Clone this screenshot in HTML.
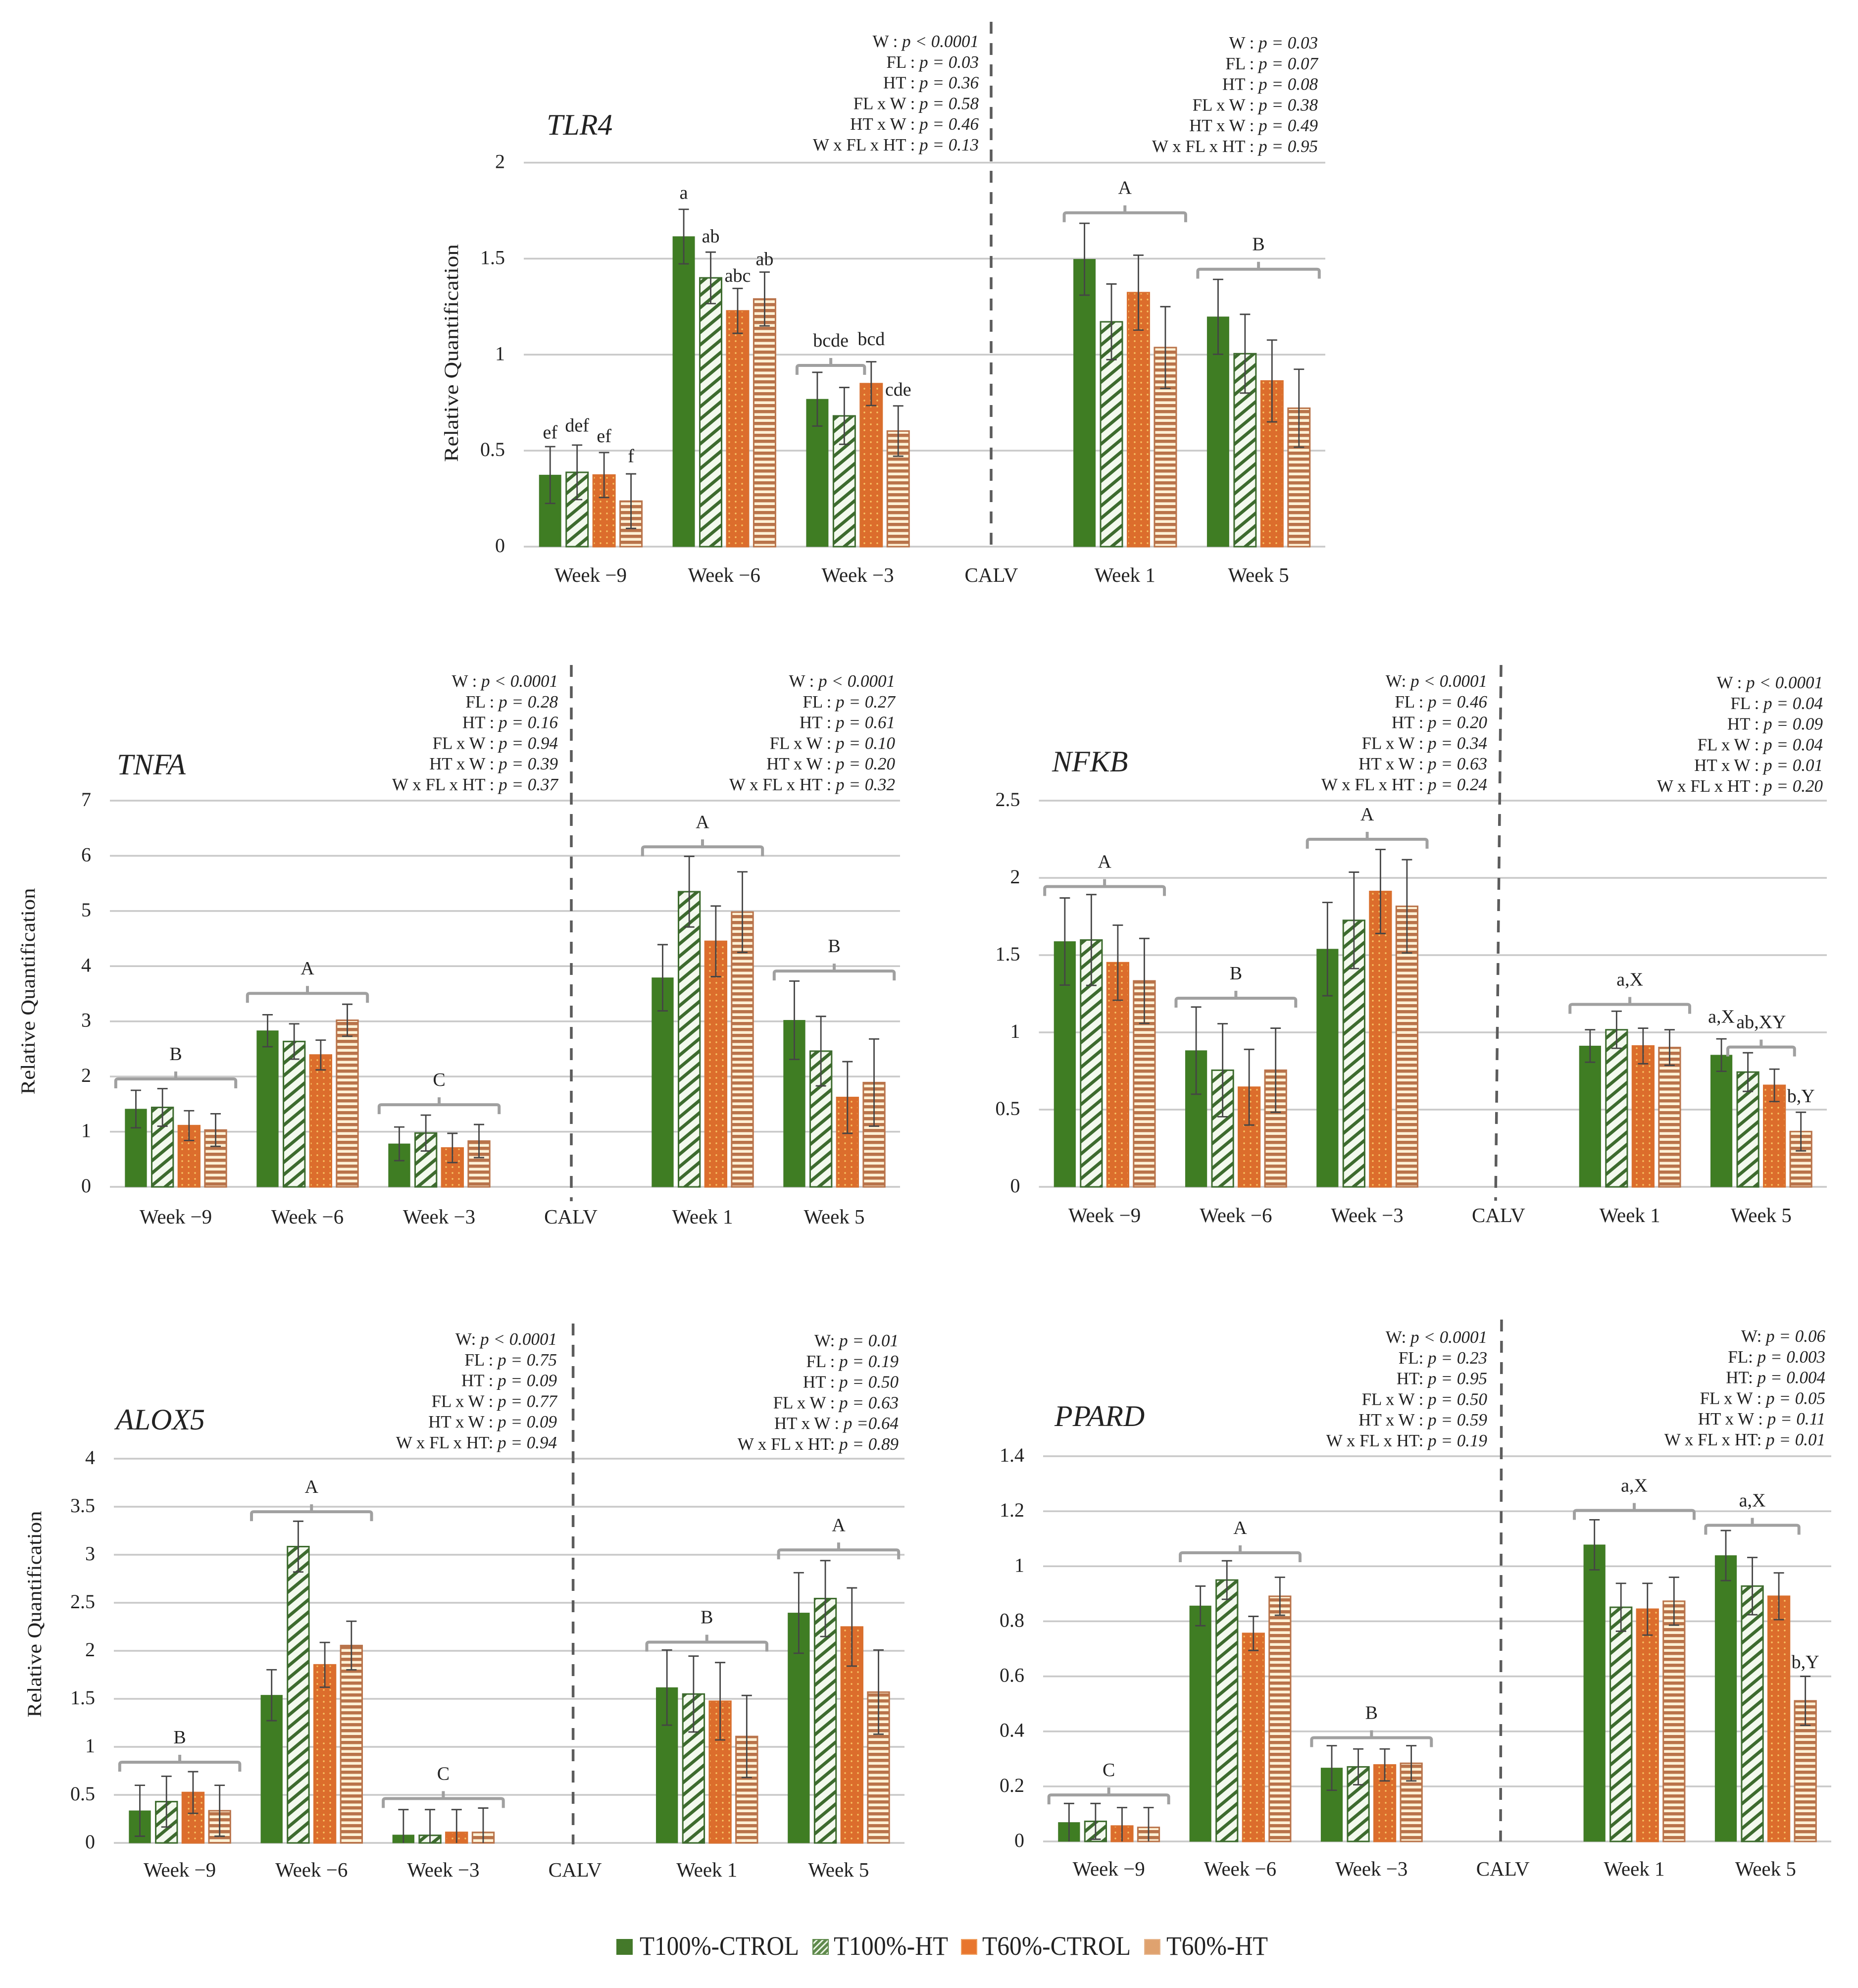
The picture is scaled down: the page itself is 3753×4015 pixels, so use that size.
<!DOCTYPE html>
<html lang="en">
<head>
<meta charset="utf-8">
<title>Relative quantification of TLR4, TNFA, NFKB, ALOX5 and PPARD</title>
<style>
html,body{margin:0;padding:0;background:#fff}
svg{display:block}
text{font-family:"Liberation Serif","DejaVu Serif",serif;fill:#222}
</style>
</head>
<body>
<svg id="figure" xmlns="http://www.w3.org/2000/svg" width="3753" height="4015" viewBox="0 0 3753 4015">
  <defs>
    <pattern id="pat-hatch" patternUnits="userSpaceOnUse" width="30" height="25">
      <rect width="30" height="25" fill="#f3f9ee"/>
      <path d="M-6 30 L36 -5 M-36 30 L6 -5 M24 30 L66 -5" stroke="#3d6b2e" stroke-width="6.5" fill="none"/>
    </pattern>
    <pattern id="pat-dots" patternUnits="userSpaceOnUse" width="13" height="12">
      <rect width="13" height="12" fill="#dc6d2c"/>
      <circle cx="4" cy="5" r="1.7" fill="#f8c565"/>
    </pattern>
    <pattern id="pat-lines" patternUnits="userSpaceOnUse" width="12" height="12">
      <rect width="12" height="12" fill="#fff2d6"/>
      <rect width="12" height="6.5" fill="#b9734a"/>
    </pattern>
    <pattern id="pat-hatch-small" patternUnits="userSpaceOnUse" width="12" height="12">
      <rect width="12" height="12" fill="#5f8a4c"/>
      <path d="M-3 15 L15 -3 M-9 9 L3 -3 M9 15 L21 3" stroke="#eef6e8" stroke-width="3" fill="none"/>
    </pattern>
  </defs>
  <rect width="3753" height="4015" fill="#ffffff"/>
  <g id="charts"></g>
  <g id="legend"></g>
</svg>
<script>
const categories = ['Week \u22129', 'Week \u22126', 'Week \u22123', 'CALV', 'Week 1', 'Week 5'];
const treatments = ['T100%-CTROL', 'T100%-HT', 'T60%-CTROL', 'T60%-HT'];
const NA = [null, null, null, null];

/* TLR4 */
const tlr4Ticks = [0, 0.5, 1, 1.5, 2];
const tlr4Means = [[0.373,0.387,0.373,0.237],[1.615,1.40,1.228,1.29],[0.768,0.681,0.849,0.602],NA,[1.497,1.171,1.323,1.037],[1.197,1.005,0.863,0.721]];
const tlr4Errors = [[0.148,0.142,0.117,0.142],[0.142,0.134,0.117,0.14],[0.14,0.148,0.114,0.131],NA,[0.187,0.197,0.195,0.213],[0.195,0.205,0.213,0.203]];
const tlr4Brackets = [['bcde',2,0,1,0.944],['A',4,0,3,1.739],['B',5,0,3,1.445]];
const tlr4Letters = [['ef',0,0,0.592],['def',0,1,0.628],['ef',0,2,0.573],['f',0,3,0.468],['a',1,0,1.84],['ab',1,1,1.613],['abc',1,2,1.408],['ab',1,3,1.495],['bcd',2,2,1.078],['cde',2,3,0.815]];
const tlr4StatsBefore = ['W : p < 0.0001','FL : p = 0.03','HT : p = 0.36','FL x W : p = 0.58','HT x W : p = 0.46','W x FL x HT : p = 0.13'];
const tlr4StatsAfter = ['W : p = 0.03','FL : p = 0.07','HT : p = 0.08','FL x W : p = 0.38','HT x W : p = 0.49','W x FL x HT : p = 0.95'];

/* TNFA */
const tnfaTicks = [0, 1, 2, 3, 4, 5, 6, 7];
const tnfaMeans = [[1.41,1.44,1.11,1.03],[2.83,2.635,2.39,3.02],[0.78,0.975,0.705,0.83],NA,[3.79,5.35,4.45,4.98],[3.02,2.46,1.62,1.89]];
const tnfaErrors = [[0.34,0.34,0.27,0.295],[0.29,0.32,0.27,0.29],[0.305,0.325,0.265,0.30],NA,[0.60,0.64,0.64,0.73],[0.71,0.63,0.65,0.79]];
const tnfaBrackets = [['B',0,0,3,1.956],['A',1,0,3,3.507],['C',2,0,3,1.489],['A',4,0,3,6.163],['B',5,0,3,3.912]];
const tnfaLetters = [];
const tnfaStatsBefore = ['W : p < 0.0001','FL : p = 0.28','HT : p = 0.16','FL x W : p = 0.94','HT x W : p = 0.39','W x FL x HT : p = 0.37'];
const tnfaStatsAfter = ['W : p < 0.0001','FL : p = 0.27','HT : p = 0.61','FL x W : p = 0.10','HT x W : p = 0.20','W x FL x HT : p = 0.32'];

/* NFKB */
const nfkbTicks = [0, 0.5, 1, 1.5, 2, 2.5];
const nfkbMeans = [[1.588,1.598,1.451,1.333],[0.882,0.755,0.645,0.755],[1.539,1.725,1.912,1.816],NA,[0.912,1.017,0.912,0.902],[0.853,0.743,0.657,0.358]];
const nfkbErrors = [[0.282,0.294,0.243,0.275],[0.282,0.301,0.245,0.272],[0.302,0.312,0.272,0.302],NA,[0.105,0.12,0.115,0.115],[0.105,0.125,0.105,0.125]];
const nfkbBrackets = [['A',0,0,3,1.944],['B',1,0,3,1.221],['A',2,0,3,2.25],['a,X',4,0,3,1.181],['ab,XY',5,1,2,0.905]];
const nfkbLetters = [['a,X',5,0,1.098],['b,Y',5,3,0.583]];
const nfkbStatsBefore = ['W: p < 0.0001','FL : p = 0.46','HT : p = 0.20','FL x W : p = 0.34','HT x W : p = 0.63','W x FL x HT : p = 0.24'];
const nfkbStatsAfter = ['W : p < 0.0001','FL : p = 0.04','HT : p = 0.09','FL x W : p = 0.04','HT x W : p = 0.01','W x FL x HT : p = 0.20'];

/* ALOX5 */
const alox5Ticks = [0, 0.5, 1, 1.5, 2, 2.5, 3, 3.5, 4];
const alox5Means = [[0.335,0.43,0.525,0.335],[1.538,3.085,1.854,2.055],[0.083,0.079,0.11,0.11],NA,[1.617,1.55,1.475,1.108],[2.394,2.544,2.248,1.57]];
const alox5Errors = [[0.265,0.264,0.217,0.265],[0.265,0.264,0.233,0.253],[0.264,0.268,0.237,0.253],NA,[0.391,0.395,0.403,0.427],[0.419,0.395,0.407,0.438]];
const alox5Brackets = [['B',0,0,3,0.84],['A',1,0,3,3.448],['C',2,0,3,0.462],['B',4,0,3,2.09],['A',5,0,3,3.05]];
const alox5Letters = [];
const alox5StatsBefore = ['W: p < 0.0001','FL : p = 0.75','HT : p = 0.09','FL x W : p = 0.77','HT x W : p = 0.09','W x FL x HT: p = 0.94'];
const alox5StatsAfter = ['W: p = 0.01','FL : p = 0.19','HT : p = 0.50','FL x W : p = 0.63','HT x W : p =0.64','W x FL x HT: p = 0.89'];

/* PPARD */
const ppardTicks = [0, 0.2, 0.4, 0.6, 0.8, 1, 1.2, 1.4];
const ppardMeans = [[0.069,0.073,0.056,0.051],[0.856,0.95,0.756,0.891],[0.267,0.271,0.278,0.284],NA,[1.078,0.851,0.844,0.873],[1.039,0.928,0.891,0.511]];
const ppardErrors = [[0.069,0.065,0.067,0.072],[0.072,0.07,0.062,0.069],[0.081,0.065,0.058,0.064],NA,[0.091,0.087,0.094,0.087],[0.091,0.104,0.085,0.089]];
const ppardBrackets = [['C',0,0,3,0.169],['A',1,0,3,1.049],['B',2,0,3,0.377],['a,X',4,0,3,1.203],['a,X',5,0,2,1.149]];
const ppardLetters = [['b,Y',5,3,0.65]];
const ppardStatsBefore = ['W: p < 0.0001','FL: p = 0.23','HT: p = 0.95','FL x W : p = 0.50','HT x W : p = 0.59','W x FL x HT: p = 0.19'];
const ppardStatsAfter = ['W: p = 0.06','FL: p = 0.003','HT: p = 0.004','FL x W : p = 0.05','HT x W : p = 0.11','W x FL x HT: p = 0.01'];

const charts = [
  {id:'tlr4', title:'TLR4', ticks:tlr4Ticks, means:tlr4Means, errors:tlr4Errors, brackets:tlr4Brackets, letters:tlr4Letters, before:tlr4StatsBefore, after:tlr4StatsAfter,
   left:1058, right:2677, top:328.5, zero:1104, titleX:1104, titleY:272, xLabelY:1175, beforeX:1977, beforeY:95, afterX:2662, afterY:98,
   dash:[2002,44,2002,1104], axisTitle:{x:925, y:713, len:440}},
  {id:'tnfa', title:'TNFA', ticks:tnfaTicks, means:tnfaMeans, errors:tnfaErrors, brackets:tnfaBrackets, letters:tnfaLetters, before:tnfaStatsBefore, after:tnfaStatsAfter,
   left:222, right:1818, top:1617, zero:2397, titleX:236, titleY:1564, xLabelY:2471, beforeX:1127, beforeY:1387, afterX:1808, afterY:1387,
   dash:[1154,1343,1154,2426], axisTitle:{x:70, y:2002, len:417}},
  {id:'nfkb', title:'NFKB', ticks:nfkbTicks, means:nfkbMeans, errors:nfkbErrors, brackets:nfkbBrackets, letters:nfkbLetters, before:nfkbStatsBefore, after:nfkbStatsAfter,
   left:2098.5, right:3690, top:1617, zero:2397, titleX:2125, titleY:1558, xLabelY:2468, beforeX:3004, beforeY:1387, afterX:3682, afterY:1390,
   dash:[3032,1343,3021,2425], axisTitle:null},
  {id:'alox5', title:'ALOX5', ticks:alox5Ticks, means:alox5Means, errors:alox5Errors, brackets:alox5Brackets, letters:alox5Letters, before:alox5StatsBefore, after:alox5StatsAfter,
   left:230, right:1827, top:2946, zero:3722, titleX:234, titleY:2887, xLabelY:3790, beforeX:1125, beforeY:2716, afterX:1815, afterY:2719,
   dash:[1157.6,2673,1157.6,3725], axisTitle:{x:83, y:3260, len:417}},
  {id:'ppard', title:'PPARD', ticks:ppardTicks, means:ppardMeans, errors:ppardErrors, brackets:ppardBrackets, letters:ppardLetters, before:ppardStatsBefore, after:ppardStatsAfter,
   left:2107, right:3699, top:2941, zero:3719, titleX:2130, titleY:2880, xLabelY:3788, beforeX:3004, beforeY:2712, afterX:3687, afterY:2710,
   dash:[3033,2665,3031,3719], axisTitle:null}
];

const barFills = ['#3f7d23', 'url(#pat-hatch)', 'url(#pat-dots)', 'url(#pat-lines)'];
const barStrokes = ['#44782d', '#3d6b2e', '#d9702f', '#b9734a'];
const NS = 'http://www.w3.org/2000/svg';

function mk(parent, tag, attrs, content) {
  const node = document.createElementNS(NS, tag);
  for (const k in attrs) node.setAttribute(k, attrs[k]);
  if (content !== undefined) node.textContent = content;
  parent.appendChild(node);
  return node;
}

function drawStats(group, lines, x, y0, name) {
  lines.forEach(function (line, i) {
    const t = mk(group, 'text', {x: x, y: y0 + i * 41.8, 'text-anchor': 'end', 'font-size': 35});
    
    
    const cut = line.indexOf('p');
    mk(t, 'tspan', {}, line.slice(0, cut));
    mk(t, 'tspan', {'font-style': 'italic'}, line.slice(cut));
  });
}

function drawChart(c) {
  const root = document.getElementById('charts');
  const g = mk(root, 'g', {});
  
  

  const band = (c.right - c.left) / categories.length;
  const step = band * 0.2018;
  const barW = band * 0.163;
  const groupW = 3 * step + barW;
  const yMax = c.ticks[c.ticks.length - 1];
  const yScale = function (v) { return c.zero - (v / yMax) * (c.zero - c.top); };
  const barX = function (gi, bi) { return c.left + gi * band + (band - groupW) / 2 + bi * step; };
  const barCenter = function (gi, bi) { return barX(gi, bi) + barW / 2; };

  c.ticks.forEach(function (tick) {
    const line = mk(g, 'line', {x1: c.left, x2: c.right, y1: yScale(tick), y2: yScale(tick), stroke: '#c9c9c9', 'stroke-width': 3.5});
    
    
    const label = mk(g, 'text', {x: c.left - 38, y: yScale(tick) + 11, 'text-anchor': 'end', 'font-size': 40}, String(tick));
    
    
  });

  categories.forEach(function (cat, i) {
    const label = mk(g, 'text', {x: c.left + band * (i + 0.5), y: c.xLabelY, 'text-anchor': 'middle', 'font-size': 41}, cat);
    
    
  });

  c.means.forEach(function (row, gi) {
    row.forEach(function (value, bi) {
      if (value === null) return;
      const x = barX(gi, bi);
      const y = yScale(value);
      const bar = mk(g, 'rect', {x: x, y: y, width: barW, height: c.zero - y, fill: barFills[bi], stroke: barStrokes[bi], 'stroke-width': bi === 0 ? 1 : 3});
      
      
    });
  });

  c.means.forEach(function (row, gi) {
    row.forEach(function (value, bi) {
      if (value === null) return;
      const err = c.errors[gi][bi];
      const cx = barCenter(gi, bi);
      const hi = yScale(value + err);
      const low = Math.max(value - err, 0);
      const lo = yScale(low);
      const cap = 10.5;
      let d = 'M' + (cx - cap) + ' ' + hi + 'H' + (cx + cap) + 'M' + cx + ' ' + hi + 'V' + lo;
      if (low > 0) d += 'M' + (cx - cap) + ' ' + lo + 'H' + (cx + cap);
      const eb = mk(g, 'path', {d: d, fill: 'none', stroke: '#444444', 'stroke-width': 2.8});
      
      
    });
  });

  c.brackets.forEach(function (b) {
    const x1 = barX(b[1], b[2]) - 19;
    const x2 = barX(b[1], b[3]) + barW + 19;
    const y = yScale(b[4]);
    const mid = (x1 + x2) / 2;
    const d = 'M' + x1 + ' ' + (y + 19) + 'V' + (y + 4) + 'Q' + x1 + ' ' + y + ' ' + (x1 + 5) + ' ' + y + 'H' + (x2 - 5) + 'Q' + x2 + ' ' + y + ' ' + x2 + ' ' + (y + 4) + 'V' + (y + 19) + 'M' + mid + ' ' + y + 'V' + (y - 15);
    const br = mk(g, 'path', {d: d, fill: 'none', stroke: '#a0a0a0', 'stroke-width': 6});
    
    
    const label = mk(g, 'text', {x: mid, y: y - 38, 'text-anchor': 'middle', 'font-size': 38}, b[0]);
    
    
  });

  c.letters.forEach(function (l) {
    const label = mk(g, 'text', {x: barCenter(l[1], l[2]), y: yScale(l[3]) + 11, 'text-anchor': 'middle', 'font-size': 38}, l[0]);
    
    
  });

  const dash = mk(g, 'line', {x1: c.dash[0], y1: c.dash[1], x2: c.dash[2], y2: c.dash[3], stroke: '#5c5c5c', 'stroke-width': 5.5, 'stroke-dasharray': '24 19'});
  
  

  const title = mk(g, 'text', {x: c.titleX, y: c.titleY, 'font-size': 60, 'font-style': 'italic'}, c.title);
  
  

  drawStats(g, c.before, c.beforeX, c.beforeY, c.id + '-prepartum-stats');
  drawStats(g, c.after, c.afterX, c.afterY, c.id + '-postpartum-stats');

  if (c.axisTitle) {
    const a = c.axisTitle;
    const yTitle = mk(g, 'text', {transform: 'translate(' + a.x + ' ' + a.y + ') rotate(-90)', 'text-anchor': 'middle', 'font-size': 40, textLength: a.len, lengthAdjust: 'spacingAndGlyphs'}, 'Relative Quantification');
    
    
  }
}

charts.forEach(drawChart);

const legendRoot = document.getElementById('legend');
const legendLayout = [
  {swatch: 1246, textX: 1292, len: 322, fill: '#44792a', stroke: '#44792a'},
  {swatch: 1642, textX: 1684, len: 231, fill: 'url(#pat-hatch-small)', stroke: '#5f8a4c'},
  {swatch: 1942, textX: 1984, len: 300, fill: '#e8762e', stroke: '#f0a060'},
  {swatch: 2312, textX: 2356, len: 205, fill: '#dfa26f', stroke: '#e6b58c'}
];
treatments.forEach(function (name, i) {
  const l = legendLayout[i];
  const sw = mk(legendRoot, 'rect', {x: l.swatch, y: 3917, width: 31, height: 30, fill: l.fill, stroke: l.stroke, 'stroke-width': 2});
  
  
  const tx = mk(legendRoot, 'text', {x: l.textX, y: 3948, 'font-size': 54, textLength: l.len, lengthAdjust: 'spacingAndGlyphs'}, name);
  
  
});
</script>
</body>
</html>
